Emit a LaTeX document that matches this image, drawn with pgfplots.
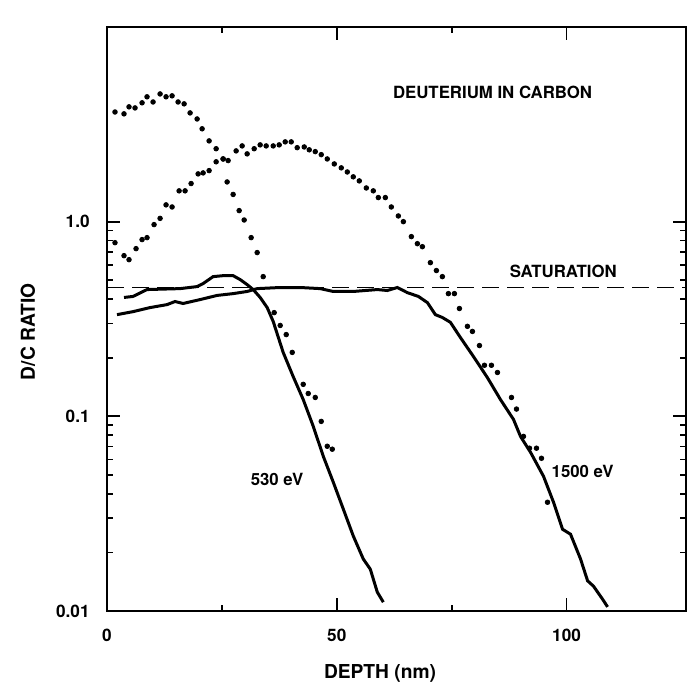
\documentclass[border=0pt]{standalone}
\usepackage{fontspec}
\setmainfont{TeX Gyre Heros}
\usepackage{pgfplots}
\pgfplotsset{compat=1.18}

\begin{document}
\begin{tikzpicture}
\begin{axis}[
  scale only axis,
  width=289.5pt, height=292pt,
  ymode=log,
  xmin=0, xmax=126,
  ymin=0.01, ymax=10,
  xtick={0,50,100},
  minor xtick={25,75},
  ytick={0.01,0.1,1},
  yticklabels={0.01,0.1,1.0},
  xticklabels={0,50,100},
  /pgf/number format/assume math mode=true,
  tick align=inside,
  major tick length=6.5pt,
  minor tick length=3pt,
  axis line style={line width=1pt},
  every tick/.style={line width=0.9pt, black},
  tick label style={font=\bfseries\fontsize{8.6}{10}\selectfont},
  xticklabel style={inner sep=0pt, anchor=north, yshift=-9pt},
  yticklabel style={inner sep=0pt, anchor=east, xshift=-8.5pt},
  xlabel={DEPTH (nm)},
  ylabel={D/C RATIO},
  label style={font=\bfseries\fontsize{9.6}{11}\selectfont},
  xlabel style={at={(rel axis cs:0.4715,0)}, anchor=center, yshift=-31pt},
  ylabel style={at={(rel axis cs:0,0.478)}, anchor=center, yshift=39.5pt},
  clip=false,
]

% saturation level
\addplot[black, line width=0.9pt, dash pattern=on 8.5pt off 4pt]
  coordinates {(0,0.459) (126,0.459)};

% 530 eV: measured profile (dots)
\addplot[only marks, mark=*, mark size=1.15pt, black] coordinates {
(1.74,3.66) (3.70,3.58) (4.79,3.89) (6.10,3.84) (7.63,4.08) (8.71,4.38)
(10.02,4.12) (11.55,4.53) (12.85,4.38) (14.16,4.43) (15.47,4.12) (16.78,4.03)
(18.08,3.62) (19.61,3.37) (20.70,3.00) (22.22,2.60) (23.75,2.37) (25.27,2.10)
(26.14,1.60) (27.45,1.38) (28.76,1.14) (29.85,1.02) (31.37,0.828) (32.68,0.694)
(33.99,0.522) (36.38,0.341) (37.69,0.293) (39.00,0.263) (40.31,0.213)
(42.70,0.146) (43.79,0.131) (45.32,0.125) (46.62,0.0942) (47.93,0.0702)
(49.02,0.0678)
};

% 1500 eV: measured profile (dots)
\addplot[only marks, mark=*, mark size=1.15pt, black] coordinates {
(1.74,0.780) (3.70,0.669) (4.79,0.638) (6.32,0.727) (7.63,0.809) (8.71,0.828)
(10.24,0.966) (11.55,1.04) (12.85,1.22) (14.16,1.19) (15.69,1.44) (16.99,1.44)
(18.30,1.57) (19.83,1.76) (20.92,1.78) (22.22,1.83) (23.75,2.03) (25.27,2.10)
(26.36,2.06) (28.10,2.31) (29.41,2.45) (30.50,2.23) (32.03,2.37) (33.33,2.48)
(34.64,2.45) (36.17,2.45) (37.47,2.48) (38.78,2.57) (40.09,2.57) (41.39,2.40)
(42.92,2.42) (44.01,2.34) (45.32,2.29) (46.62,2.21) (47.93,2.10) (49.46,1.98)
(50.98,1.89) (52.29,1.80) (53.59,1.70) (54.90,1.62) (56.43,1.49) (57.95,1.44)
(59.04,1.33) (60.57,1.33) (61.87,1.19) (63.40,1.07) (64.49,1.00) (66.23,0.838)
(67.54,0.771) (68.63,0.744) (70.37,0.616) (71.68,0.561) (72.98,0.522)
(74.29,0.427) (75.60,0.427) (76.69,0.358) (78.43,0.290) (79.52,0.273)
(81.05,0.231) (82.14,0.183) (83.66,0.183) (84.97,0.168) (88.02,0.125)
(89.11,0.109) (90.63,0.0789) (91.94,0.0686) (93.46,0.0686) (94.55,0.0609)
(95.86,0.0362)
};

% 530 eV: calculated profile
\addplot[black, line width=1.5pt] coordinates {
(3.70,0.408) (5.66,0.413) (8.71,0.448) (15.90,0.453) (19.61,0.464)
(20.92,0.481) (23.09,0.522) (25.27,0.528) (27.45,0.528) (28.98,0.504)
(30.50,0.475) (31.81,0.448) (33.33,0.408) (34.86,0.362) (36.17,0.307)
(38.34,0.213) (40.52,0.160) (42.70,0.122) (44.88,0.0889) (47.06,0.0624)
(49.24,0.0459) (51.42,0.0334) (53.59,0.0243) (55.77,0.0185) (57.30,0.0164)
(58.82,0.0125) (60.13,0.0111)
};

% 1500 eV: calculated profile
\addplot[black, line width=1.5pt] coordinates {
(2.18,0.333) (5.66,0.345) (9.37,0.362) (13.07,0.375) (14.81,0.389)
(16.56,0.380) (20.26,0.398) (23.97,0.418) (27.45,0.427) (30.50,0.438)
(32.68,0.453) (37.69,0.459) (42.05,0.459) (46.41,0.453) (49.24,0.438)
(53.59,0.438) (58.82,0.448) (61.00,0.443) (63.18,0.459) (65.36,0.432)
(67.76,0.413) (69.72,0.384) (71.46,0.333) (72.98,0.322) (74.73,0.304)
(76.91,0.254) (79.74,0.203) (82.79,0.158) (85.62,0.122) (88.45,0.0965)
(89.98,0.0789) (92.16,0.0654) (94.99,0.0492) (97.17,0.0362) (99.13,0.0263)
(100.87,0.0248) (103.05,0.0185) (104.58,0.0143) (105.88,0.0134)
(107.84,0.0115) (108.93,0.0105)
};

\node[font=\bfseries\fontsize{8.4}{10}\selectfont] at (axis cs:83.9,4.59) {DEUTERIUM IN CARBON};
\node[font=\bfseries\fontsize{8.4}{10}\selectfont] at (axis cs:99.3,0.554) {SATURATION};
\node[font=\bfseries\fontsize{8.4}{10}\selectfont] at (axis cs:37.0,0.0475) {530 eV};
\node[font=\bfseries\fontsize{8.4}{10}\selectfont] at (axis cs:103.5,0.0522) {1500 eV};
\end{axis}
\pgfresetboundingbox
\path[use as bounding box] ([shift={(-53.5pt,-36.5pt)}]current axis.south west)
  rectangle ([shift={(3.5pt,13.5pt)}]current axis.north east);
\end{tikzpicture}
\end{document}
